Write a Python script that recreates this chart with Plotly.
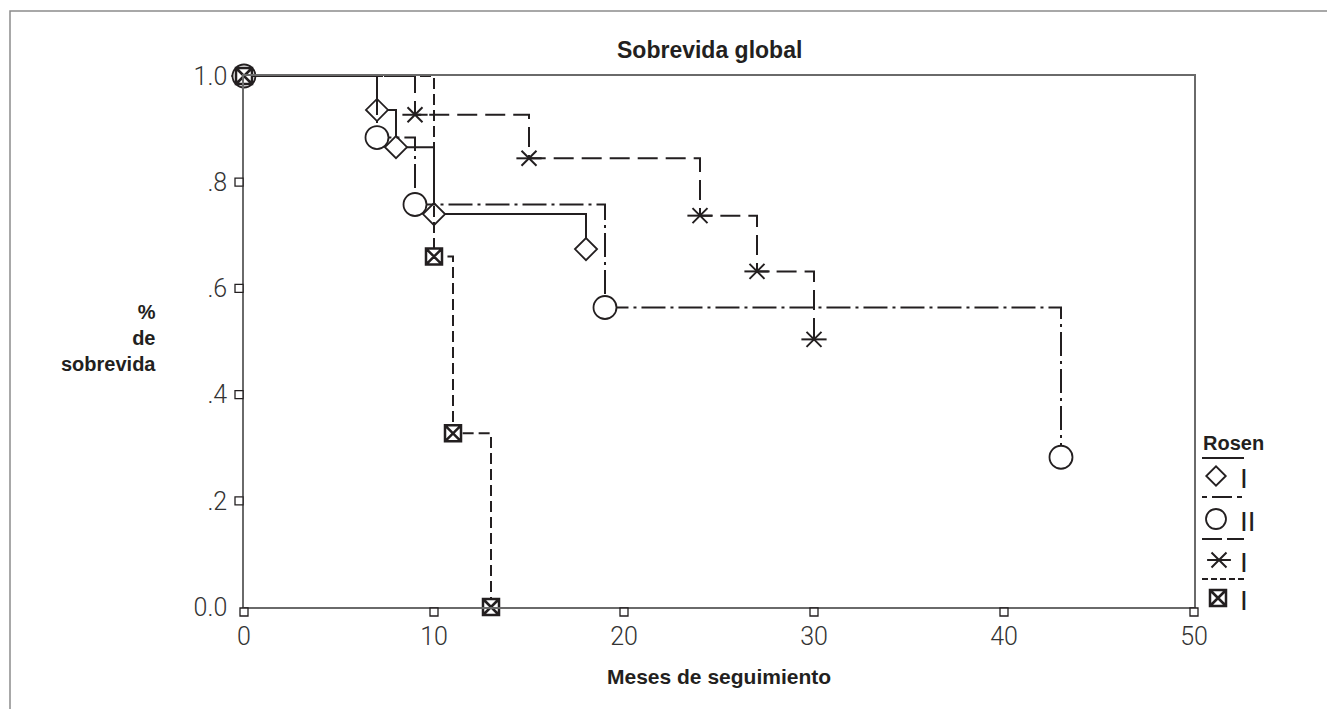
import plotly.graph_objects as go

# ---------------- data ----------------
diamond_x = [0, 7, 8, 10, 18]
diamond_y = [1.0, 0.936, 0.866, 0.740, 0.674]

circle_x = [0, 7, 9, 19, 43]
circle_y = [1.0, 0.884, 0.758, 0.564, 0.282]

star_x = [0, 9, 15, 24, 27, 30]
star_y = [1.0, 0.927, 0.845, 0.737, 0.632, 0.504]

square_x = [0, 10, 11, 13]
square_y = [1.0, 0.660, 0.327, 0.0]

x_ticks = [0, 10, 20, 30, 40, 50]
y_ticks = [0.0, 0.2, 0.4, 0.6, 0.8, 1.0]
y_ticktext = ["0.0", ".2", ".4", ".6", ".8", "1.0"]

legend_title = "Rosen"
legend_labels = ["I", "II", "I", "I"]

# ---------------- layout constants (screen pixels) ----------------
OFF = 8                      # page body margin of the html page
SW, SH = 1335, 709           # screen size
W, H = SW - OFF, SH - OFF    # figure size
PX0, PX1 = 244, 1194         # screen x of plot-area left / right
PY0, PY1 = 607, 76           # screen y of plot-area bottom / top
X_RANGE = [0, 50]
Y_RANGE = [0, 1]

INK = "#231f20"
AXIS = "#6a6a6a"
FRAME = "#8c8c8c"
BOLD = "Liberation Sans, Arial, sans-serif"
LIGHT = "Roboto, Liberation Sans, sans-serif"


def fx(px):
    return (px - OFF) / W


def fy(py):
    return 1 - (py - OFF) / H


def data_to_px_x(v):
    return PX0 + (v - X_RANGE[0]) / (X_RANGE[1] - X_RANGE[0]) * (PX1 - PX0)


def data_to_px_y(v):
    return PY0 - (v - Y_RANGE[0]) / (Y_RANGE[1] - Y_RANGE[0]) * (PY0 - PY1)


DASH_CIRCLE = "24px,5px,3px,5px"
DASH_STAR = "20px,8px"
DASH_SQUARE = "11px,5px"

fig = go.Figure()


def series(x, y, dash, symbol, size, mlw):
    fig.add_trace(go.Scatter(
        x=x, y=y, mode="lines+markers", cliponaxis=False, showlegend=False,
        line=dict(shape="hv", color=INK, width=2, dash=dash),
        marker=dict(symbol=symbol, size=size, color="white",
                    line=dict(color=INK, width=mlw)),
        hoverinfo="skip"))


# draw order: diamond, asterisk, circle, square
series(diamond_x, diamond_y, "solid", "diamond", 17, 1.8)
fig.add_trace(go.Scatter(
    x=star_x, y=star_y, mode="lines+markers", cliponaxis=False, showlegend=False,
    line=dict(shape="hv", color=INK, width=2, dash=DASH_STAR),
    marker=dict(symbol="x-thin-open", size=15, color=INK, line=dict(color=INK, width=2)),
    hoverinfo="skip"))
fig.add_trace(go.Scatter(
    x=star_x, y=star_y, mode="markers", cliponaxis=False, showlegend=False,
    marker=dict(symbol="line-ew-open", size=18, color=INK, line=dict(color=INK, width=2)),
    hoverinfo="skip"))
series(circle_x, circle_y, DASH_CIRCLE, "circle", 23, 1.8)
series(square_x, square_y, DASH_SQUARE, "square-x", 16, 2.5)

# ---------------- decoration overlay (screen-pixel coordinates) ----------------
# hollow tick squares
tx = [data_to_px_x(v) for v in x_ticks]
fig.add_trace(go.Scatter(
    x=tx, y=[PY0 + 5] * len(tx), xaxis="x2", yaxis="y2", mode="markers",
    showlegend=False, hoverinfo="skip", cliponaxis=False,
    marker=dict(symbol="square", size=8, color="white", line=dict(color=INK, width=1.3))))
yt = [v for v in y_ticks if 0 < v < 1]
fig.add_trace(go.Scatter(
    x=[PX0 - 5] * len(yt), y=[data_to_px_y(v) for v in yt], xaxis="x2", yaxis="y2",
    mode="markers", showlegend=False, hoverinfo="skip", cliponaxis=False,
    marker=dict(symbol="square", size=8, color="white", line=dict(color=INK, width=1.3))))

# legend
LEG_X = 1202
LEG_LINE_Y = [458, 497, 539, 579]
LEG_LINE_DASH = ["solid", "5px,5px,20px,5px", "20px,5px", "6px,3px"]
LEG_MARK_Y = [476, 519, 560, 598]
LEG_MARK_X = [1216, 1216, 1219, 1218]

for yy, dd in zip(LEG_LINE_Y, LEG_LINE_DASH):
    fig.add_shape(type="line", xref="paper", yref="paper",
                  x0=fx(LEG_X), x1=fx(LEG_X + 42), y0=fy(yy), y1=fy(yy),
                  line=dict(color=INK, width=2, dash=dd))

leg_symbols = ["diamond", "circle", "x-thin-open", "square-x"]
leg_sizes = [15, 20, 15, 16]
leg_lw = [1.8, 1.8, 2, 2.5]
for sx, sy, sym, sz, lw in zip(LEG_MARK_X, LEG_MARK_Y, leg_symbols, leg_sizes, leg_lw):
    fig.add_trace(go.Scatter(
        x=[sx], y=[sy], xaxis="x2", yaxis="y2", mode="markers", showlegend=False,
        hoverinfo="skip", cliponaxis=False,
        marker=dict(symbol=sym, size=sz, color="white" if "open" not in sym else INK,
                    line=dict(color=INK, width=lw))))
fig.add_trace(go.Scatter(
    x=[LEG_MARK_X[2]], y=[LEG_MARK_Y[2]], xaxis="x2", yaxis="y2", mode="markers",
    showlegend=False, hoverinfo="skip", cliponaxis=False,
    marker=dict(symbol="line-ew-open", size=17, color=INK, line=dict(color=INK, width=2))))

annotations = []


def ann(text, px, py, xanchor, size, family=BOLD, align="center"):
    annotations.append(dict(text=text, x=fx(px), y=fy(py), xref="paper", yref="paper",
                            xanchor=xanchor, yanchor="middle", align=align,
                            showarrow=False,
                            font=dict(family=family, size=size, color=INK)))


ann("<b>" + legend_title + "</b>", LEG_X - 1, 443, "left", 20)
for lab, yy in zip(legend_labels, LEG_MARK_Y):
    ann(lab, 1238, yy + 2, "left", 28)

# titles
ann("<b>Sobrevida global</b>", 709, 50, "center", 23)
ann("<b>Meses de seguimiento</b>", 719, 676, "center", 21)
ann("<b>%<br>de<br>sobrevida</b>", 158, 338, "right", 20, align="right")

# outer frame
fig.add_shape(type="rect", xref="paper", yref="paper",
              x0=fx(10), x1=1.1, y0=-0.1, y1=fy(11),
              line=dict(color=FRAME, width=1.5), fillcolor="rgba(0,0,0,0)", layer="below")

fig.update_layout(
    template="none",
    width=W, height=H,
    margin=dict(l=0, r=0, t=0, b=0, autoexpand=False),
    paper_bgcolor="white", plot_bgcolor="rgba(0,0,0,0)",
    showlegend=False,
    annotations=annotations,
    xaxis=dict(domain=[fx(PX0), fx(PX1)], range=X_RANGE, showline=True, mirror=True,
               linecolor=AXIS, linewidth=1.5, showgrid=False, zeroline=False,
               automargin=False,
               tickvals=x_ticks, ticktext=[str(v) for v in x_ticks], ticks="",
               ticklabelstandoff=6,
               tickfont=dict(family=LIGHT, size=25, color="#333333", weight=300)),
    yaxis=dict(domain=[fy(PY0), fy(PY1)], range=Y_RANGE, showline=True, mirror=True,
               linecolor=AXIS, linewidth=1.5, showgrid=False, zeroline=False,
               automargin=False,
               tickvals=y_ticks, ticktext=y_ticktext, ticks="",
               ticklabelstandoff=10,
               tickfont=dict(family=LIGHT, size=25, color="#333333", weight=300)),
    xaxis2=dict(domain=[0, 1], range=[OFF, OFF + W], visible=False, anchor="y2",
                fixedrange=True, automargin=False),
    yaxis2=dict(domain=[0, 1], range=[OFF + H, OFF], visible=False, anchor="x2",
                fixedrange=True, automargin=False),
)

fig.write_html("out.html", config=dict(displayModeBar=False))
